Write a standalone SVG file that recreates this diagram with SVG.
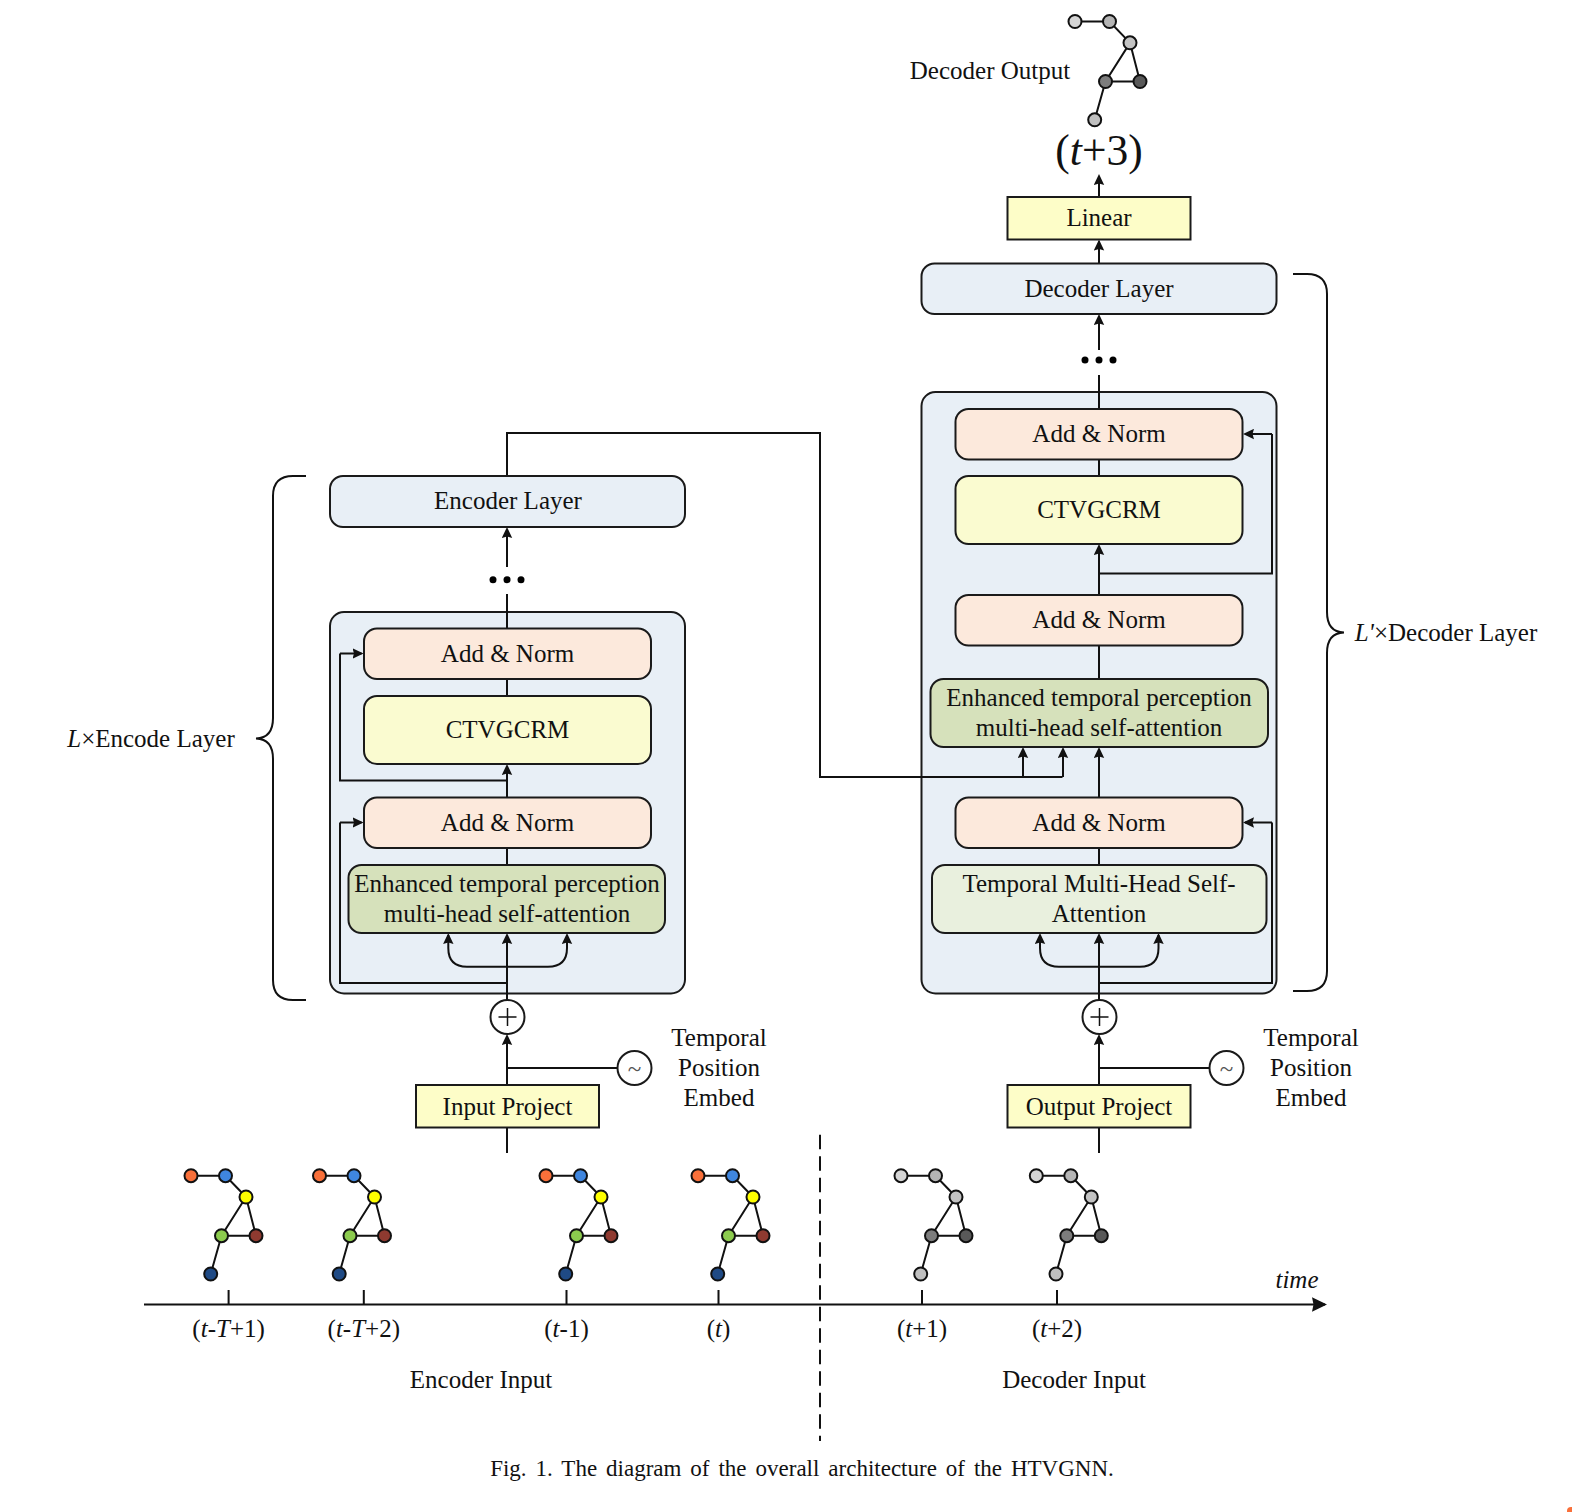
<svg xmlns="http://www.w3.org/2000/svg" width="1572" height="1512" viewBox="0 0 1572 1512">
<style>
text{font-family:"Liberation Serif","Times New Roman",serif;font-size:25px;fill:#111;text-anchor:middle}
.i{font-style:italic}
.b{stroke:#1a1a1a;stroke-width:2}
.outer{fill:#e8eff6}.peach{fill:#fce9dc}.yel{fill:#fafbd0}.grn{fill:#d6e1bb}.lgrn{fill:#e9f0de}.lin{fill:#fdfdc8}
.w{fill:#fff}
.c{fill:none;stroke:#111;stroke-width:2}
.a{fill:none;stroke:#111;stroke-width:2;marker-end:url(#ah)}
.ax{fill:none;stroke:#111;stroke-width:2;marker-end:url(#ahb)}
.sk{fill:none;stroke:#111;stroke-width:2}
.n{stroke:#111;stroke-width:2}
.p{fill:none;stroke:#111;stroke-width:1.5}
.c1{fill:#f9703a}.c2{fill:#3f86df}.c3{fill:#ffff00}.c4{fill:#8ccb4e}.c5{fill:#8f3a30}.c6{fill:#1f4a85}
.g1{fill:#d5d5d5}.g2{fill:#b5b5b5}.g3{fill:#c3c3c3}.g4{fill:#7d7d7d}.g5{fill:#595959}.g6{fill:#c0c0c0}
</style>
<defs>
<marker id="ah" markerUnits="userSpaceOnUse" markerWidth="11" markerHeight="11" viewBox="0 0 11 11" refX="9" refY="5.5" orient="auto"><path d="M0,0.3 L11,5.5 L0,10.7 L1.500,5.500 Z" fill="#111"/></marker>
<marker id="ahb" markerUnits="userSpaceOnUse" markerWidth="15" markerHeight="15" viewBox="0 0 15 15" refX="13" refY="7.5" orient="auto"><path d="M0,0.300 L15,7.500 L0,14.700 L1.500,7.500 Z" fill="#111"/></marker>
<path id="bones" d="M191,1175.7 H225.5 L246,1197 L221.5,1235.7 H256 L246,1197 M221.5,1235.7 L210.7,1274"/>
</defs>
<rect width="1572" height="1512" fill="#fff"/>

<g id="encoder-frame"><rect class="outer b" x="330" y="612" width="355" height="381.500" rx="14"/></g>
<g id="decoder-frame"><rect class="outer b" x="921.500" y="392" width="355" height="601.500" rx="14"/></g>

<g id="connectors">
<path class="c" d="M507,476V433H820V777H1062.500"/>
<path class="a" d="M1023,777V749"/>
<path class="a" d="M1063,777V749"/>
<path class="c" d="M507,1000V983H340V822.500"/>
<path class="a" d="M340,822.500H361.500"/>
<path class="a" d="M507,1000V935"/>
<path class="a" d="M507,966.700H467Q448.300,966.700 448.300,948V935"/>
<path class="a" d="M507,966.700H548Q567,966.700 567,948V935"/>
<path class="c" d="M507,865V848"/>
<path class="a" d="M507,797V766"/>
<path class="c" d="M507,780.500H340V653.500"/>
<path class="a" d="M340,653.500H361.500"/>
<path class="c" d="M507,696V679"/>
<path class="c" d="M507,628V594"/>
<path class="a" d="M507,567V529"/>
<path class="c" d="M507,1127V1153"/>
<path class="a" d="M507,1085V1036"/>
<path class="c" d="M507,1068H617"/>

<path class="c" d="M1099,1000V983H1272V822.500"/>
<path class="a" d="M1272,822.500H1245"/>
<path class="a" d="M1099,1000V935"/>
<path class="a" d="M1099,966.700H1059Q1040,966.700 1040,948V935"/>
<path class="a" d="M1099,966.700H1140Q1158.500,966.700 1158.500,948V935"/>
<path class="c" d="M1099,865V848"/>
<path class="a" d="M1099,797V749"/>
<path class="c" d="M1099,679V645"/>
<path class="a" d="M1099,594V546"/>
<path class="c" d="M1099,573.500H1272V434"/>
<path class="a" d="M1272,434H1245"/>
<path class="c" d="M1099,476V459"/>
<path class="c" d="M1099,409V375"/>
<path class="a" d="M1099,350V316"/>
<path class="a" d="M1099,263V241.500"/>
<path class="a" d="M1099,197V176"/>
<path class="c" d="M1099,1127V1153"/>
<path class="a" d="M1099,1085V1036"/>
<path class="c" d="M1099,1068H1209"/>

<path class="ax" d="M144,1304.500H1325"/>
<path class="c" d="M228.600,1290V1304M363.800,1290V1304M566.500,1290V1304M718.500,1290V1304M922,1290V1304M1057,1290V1304"/>
<path class="c" d="M820,1134.700V1441" stroke-dasharray="14.500 7"/>
<path class="c" d="M306,476H293Q273,476 273,496V718Q273,738 256,738.500Q273,739 273,759V980Q273,1000 293,1000H306"/>
<path class="c" d="M1293,274H1307Q1327,274 1327,294V612Q1327,632 1344,632.500Q1327,633 1327,653V971Q1327,991 1307,991H1293"/>
</g>

<g id="enc-layer"><rect class="outer b" x="330" y="476" width="355" height="51" rx="13"/><text x="508" y="509">Encoder Layer</text></g>
<g id="enc-dots"><circle cx="493" cy="579.700" r="3.500"/><circle cx="507" cy="579.700" r="3.500"/><circle cx="521" cy="579.700" r="3.500"/></g>
<g id="enc-add2"><rect class="peach b" x="364" y="628.500" width="287" height="50.500" rx="13"/><text x="507.500" y="662">Add &amp; Norm</text></g>
<g id="enc-ctv"><rect class="yel b" x="364" y="696" width="287" height="68" rx="13"/><text x="507.500" y="738">CTVGCRM</text></g>
<g id="enc-add1"><rect class="peach b" x="364" y="797.500" width="287" height="50.500" rx="13"/><text x="507.500" y="831">Add &amp; Norm</text></g>
<g id="enc-att"><rect class="grn b" x="348.500" y="865" width="316.500" height="68" rx="13"/><text x="507" y="892">Enhanced temporal perception</text><text x="507" y="922">multi-head self-attention</text></g>
<g id="enc-sum"><circle class="w b" cx="507.500" cy="1017" r="17"/><path class="p" d="M498.500,1017H516.500M507.500,1008V1026"/></g>
<g id="enc-pos"><circle class="w b" cx="634.500" cy="1068" r="17"/><text x="634.500" y="1077" style="fill:#555">~</text></g>
<g id="enc-pos-label"><text x="719" y="1046">Temporal</text><text x="719" y="1076">Position</text><text x="719" y="1106">Embed</text></g>
<g id="input-project"><rect class="lin b" x="416" y="1085" width="183" height="42.500"/><text x="507.500" y="1115">Input Project</text></g>

<g id="dec-layer"><rect class="outer b" x="921.500" y="263.500" width="355" height="50.500" rx="13"/><text x="1099" y="296.500">Decoder Layer</text></g>
<g id="dec-dots"><circle cx="1085" cy="360" r="3.500"/><circle cx="1099" cy="360" r="3.500"/><circle cx="1113" cy="360" r="3.500"/></g>
<g id="linear"><rect class="lin b" x="1007.500" y="197" width="183" height="42.500"/><text x="1099" y="226">Linear</text></g>
<g id="dec-add3"><rect class="peach b" x="955.500" y="409" width="287" height="50.500" rx="13"/><text x="1099" y="442">Add &amp; Norm</text></g>
<g id="dec-ctv"><rect class="yel b" x="955.500" y="476" width="287" height="68" rx="13"/><text x="1099" y="518">CTVGCRM</text></g>
<g id="dec-add2"><rect class="peach b" x="955.500" y="595" width="287" height="50.500" rx="13"/><text x="1099" y="628">Add &amp; Norm</text></g>
<g id="dec-att2"><rect class="grn b" x="930.500" y="679" width="337.500" height="68" rx="13"/><text x="1099" y="706">Enhanced temporal perception</text><text x="1099" y="736">multi-head self-attention</text></g>
<g id="dec-add1"><rect class="peach b" x="955.500" y="797.500" width="287" height="50.500" rx="13"/><text x="1099" y="831">Add &amp; Norm</text></g>
<g id="dec-att1"><rect class="lgrn b" x="932" y="865" width="334.500" height="68" rx="13"/><text x="1099" y="892">Temporal Multi-Head Self-</text><text x="1099" y="922">Attention</text></g>
<g id="dec-sum"><circle class="w b" cx="1099.500" cy="1017" r="17"/><path class="p" d="M1090.500,1017H1108.500M1099.500,1008V1026"/></g>
<g id="dec-pos"><circle class="w b" cx="1226.500" cy="1068" r="17"/><text x="1226.500" y="1077" style="fill:#555">~</text></g>
<g id="dec-pos-label"><text x="1311" y="1046">Temporal</text><text x="1311" y="1076">Position</text><text x="1311" y="1106">Embed</text></g>
<g id="output-project"><rect class="lin b" x="1007.500" y="1085" width="183" height="42.500"/><text x="1099" y="1115">Output Project</text></g>

<g id="decoder-output-label"><text x="990" y="78.500">Decoder Output</text></g>
<g id="t3"><text x="1099" y="165" style="font-size:43.500px">(<tspan class="i">t</tspan>+3)</text></g>
<g id="pose-out" transform="translate(884,-1154.200)"><use href="#bones" class="sk"/>
<circle class="n g1" cx="191" cy="1175.700" r="6.500"/><circle class="n g2" cx="225.500" cy="1175.700" r="6.500"/><circle class="n g3" cx="246" cy="1197" r="6.500"/><circle class="n g4" cx="221.500" cy="1235.700" r="6.500"/><circle class="n g5" cx="256" cy="1235.700" r="6.500"/><circle class="n g6" cx="210.700" cy="1274" r="6.500"/></g>

<g id="pose1"><use href="#bones" class="sk"/><circle class="n c1" cx="191" cy="1175.700" r="6.500"/><circle class="n c2" cx="225.500" cy="1175.700" r="6.500"/><circle class="n c3" cx="246" cy="1197" r="6.500"/><circle class="n c4" cx="221.500" cy="1235.700" r="6.500"/><circle class="n c5" cx="256" cy="1235.700" r="6.500"/><circle class="n c6" cx="210.700" cy="1274" r="6.500"/></g>
<g id="pose2" transform="translate(128.500,0)"><use href="#bones" class="sk"/><circle class="n c1" cx="191" cy="1175.700" r="6.500"/><circle class="n c2" cx="225.500" cy="1175.700" r="6.500"/><circle class="n c3" cx="246" cy="1197" r="6.500"/><circle class="n c4" cx="221.500" cy="1235.700" r="6.500"/><circle class="n c5" cx="256" cy="1235.700" r="6.500"/><circle class="n c6" cx="210.700" cy="1274" r="6.500"/></g>
<g id="pose3" transform="translate(355,0)"><use href="#bones" class="sk"/><circle class="n c1" cx="191" cy="1175.700" r="6.500"/><circle class="n c2" cx="225.500" cy="1175.700" r="6.500"/><circle class="n c3" cx="246" cy="1197" r="6.500"/><circle class="n c4" cx="221.500" cy="1235.700" r="6.500"/><circle class="n c5" cx="256" cy="1235.700" r="6.500"/><circle class="n c6" cx="210.700" cy="1274" r="6.500"/></g>
<g id="pose4" transform="translate(507,0)"><use href="#bones" class="sk"/><circle class="n c1" cx="191" cy="1175.700" r="6.500"/><circle class="n c2" cx="225.500" cy="1175.700" r="6.500"/><circle class="n c3" cx="246" cy="1197" r="6.500"/><circle class="n c4" cx="221.500" cy="1235.700" r="6.500"/><circle class="n c5" cx="256" cy="1235.700" r="6.500"/><circle class="n c6" cx="210.700" cy="1274" r="6.500"/></g>
<g id="pose5" transform="translate(710,0)"><use href="#bones" class="sk"/><circle class="n g1" cx="191" cy="1175.700" r="6.500"/><circle class="n g2" cx="225.500" cy="1175.700" r="6.500"/><circle class="n g3" cx="246" cy="1197" r="6.500"/><circle class="n g4" cx="221.500" cy="1235.700" r="6.500"/><circle class="n g5" cx="256" cy="1235.700" r="6.500"/><circle class="n g6" cx="210.700" cy="1274" r="6.500"/></g>
<g id="pose6" transform="translate(845.300,0)"><use href="#bones" class="sk"/><circle class="n g1" cx="191" cy="1175.700" r="6.500"/><circle class="n g2" cx="225.500" cy="1175.700" r="6.500"/><circle class="n g3" cx="246" cy="1197" r="6.500"/><circle class="n g4" cx="221.500" cy="1235.700" r="6.500"/><circle class="n g5" cx="256" cy="1235.700" r="6.500"/><circle class="n g6" cx="210.700" cy="1274" r="6.500"/></g>

<g id="axis-labels">
<text x="228.600" y="1337">(<tspan class="i">t</tspan>-<tspan class="i">T</tspan>+1)</text>
<text x="363.800" y="1337">(<tspan class="i">t</tspan>-<tspan class="i">T</tspan>+2)</text>
<text x="566.500" y="1337">(<tspan class="i">t</tspan>-1)</text>
<text x="718.500" y="1337">(<tspan class="i">t</tspan>)</text>
<text x="922" y="1337">(<tspan class="i">t</tspan>+1)</text>
<text x="1057" y="1337">(<tspan class="i">t</tspan>+2)</text>
<text x="1297" y="1288" class="i">time</text>
<text x="481" y="1387.500">Encoder Input</text>
<text x="1074" y="1387.500">Decoder Input</text>
</g>
<g id="stack-labels">
<text x="151" y="746.500"><tspan class="i">L</tspan>×Encode Layer</text>
<text x="1446" y="640.500"><tspan class="i">L'</tspan>×Decoder Layer</text>
</g>
<text x="802" y="1476" style="font-size:23px" word-spacing="3.200">Fig. 1. The diagram of the overall architecture of the HTVGNN.</text>
<circle cx="1571" cy="1511" r="4" fill="#f9703a"/>
</svg>
